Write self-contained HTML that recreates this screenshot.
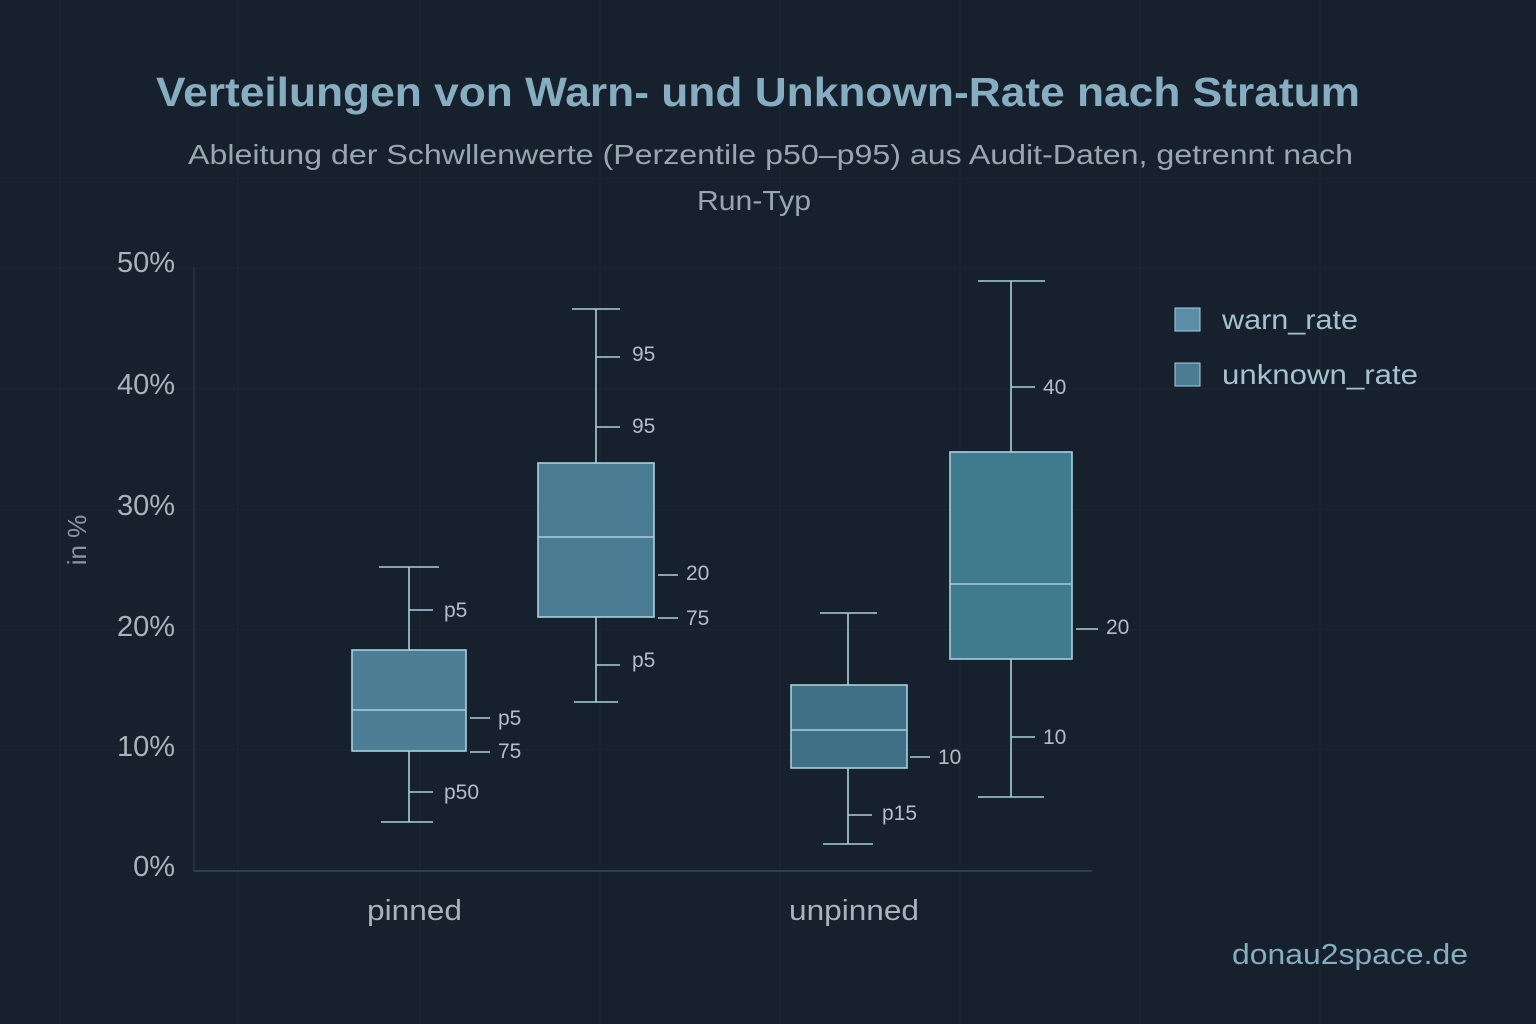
<!DOCTYPE html>
<html><head><meta charset="utf-8"><style>
html,body{margin:0;padding:0;background:#17212e;}
svg{display:block;font-family:"Liberation Sans","DejaVu Sans",sans-serif;}
</style></head><body>
<svg width="1536" height="1024" viewBox="0 0 1536 1024" xmlns="http://www.w3.org/2000/svg">
<rect width="1536" height="1024" fill="#17212e"/>
<g stroke="#1c2734" stroke-width="1">
<line x1="0" y1="178" x2="1536" y2="178"/><line x1="0" y1="268" x2="1536" y2="268"/>
<line x1="0" y1="389" x2="1536" y2="389"/><line x1="0" y1="510" x2="1536" y2="510"/>
<line x1="0" y1="630" x2="1536" y2="630"/><line x1="0" y1="750" x2="1536" y2="750"/>
<line x1="60" y1="0" x2="60" y2="1024"/><line x1="238" y1="0" x2="238" y2="1024"/>
<line x1="420" y1="0" x2="420" y2="1024"/><line x1="600" y1="0" x2="600" y2="1024"/>
<line x1="780" y1="0" x2="780" y2="1024"/><line x1="960" y1="0" x2="960" y2="1024"/>
<line x1="1140" y1="0" x2="1140" y2="1024"/><line x1="1320" y1="0" x2="1320" y2="1024"/>
</g>
<text x="156" y="106" textLength="1204" lengthAdjust="spacingAndGlyphs" font-size="41" font-weight="bold" fill="#86adc0">Verteilungen von Warn- und Unknown-Rate nach Stratum</text>
<text x="188" y="164" textLength="1165" lengthAdjust="spacingAndGlyphs" font-size="28" fill="#9aa6ae">Ableitung der Schwllenwerte (Perzentile p50–p95) aus Audit-Daten, getrennt nach</text>
<text x="697" y="210" textLength="114" lengthAdjust="spacingAndGlyphs" font-size="28" fill="#9aa6ae">Run-Typ</text>
<g font-size="29" fill="#a9b3ba" text-anchor="end">
<text x="175" y="272">50%</text><text x="175" y="394">40%</text><text x="175" y="515">30%</text>
<text x="175" y="636">20%</text><text x="175" y="756">10%</text><text x="175" y="876">0%</text>
</g>
<text transform="translate(86,540) rotate(-90)" text-anchor="middle" font-size="26" fill="#8a96a0">in %</text>
<line x1="194" y1="268" x2="194" y2="871" stroke="#24303e" stroke-width="2"/>
<line x1="194" y1="871" x2="1092" y2="871" stroke="#2f3d4c" stroke-width="2"/>
<text x="367" y="920" textLength="95" lengthAdjust="spacingAndGlyphs" font-size="29" fill="#a9b3ba">pinned</text>
<text x="789" y="920" textLength="130" lengthAdjust="spacingAndGlyphs" font-size="29" fill="#a9b3ba">unpinned</text>
<g stroke="#a8d0dc" stroke-width="1.6" fill="none">
<line x1="409" y1="567" x2="409" y2="822"/><line x1="379" y1="567" x2="439" y2="567"/><line x1="381" y1="822" x2="433" y2="822"/>
<rect x="352" y="650" width="114" height="101" fill="#4c7f96"/><line x1="352" y1="710" x2="466" y2="710"/>
<line x1="409" y1="610" x2="433" y2="610"/><line x1="470" y1="718" x2="490" y2="718"/><line x1="470" y1="752" x2="490" y2="752"/><line x1="409" y1="792" x2="433" y2="792"/>
<line x1="596" y1="309" x2="596" y2="702"/><line x1="572" y1="309" x2="620" y2="309"/><line x1="574" y1="702" x2="618" y2="702"/>
<rect x="538" y="463" width="116" height="154" fill="#4a7d94"/><line x1="538" y1="537" x2="654" y2="537"/>
<line x1="596" y1="357" x2="620" y2="357"/><line x1="596" y1="427" x2="620" y2="427"/><line x1="658" y1="575" x2="678" y2="575"/><line x1="658" y1="618" x2="678" y2="618"/><line x1="596" y1="665" x2="620" y2="665"/>
<line x1="848" y1="613" x2="848" y2="844"/><line x1="820" y1="613" x2="877" y2="613"/><line x1="823" y1="844" x2="873" y2="844"/>
<rect x="791" y="685" width="116" height="83" fill="#3f7087"/><line x1="791" y1="730" x2="907" y2="730"/>
<line x1="910" y1="757" x2="930" y2="757"/><line x1="848" y1="815" x2="872" y2="815"/>
<line x1="1011" y1="281" x2="1011" y2="797"/><line x1="978" y1="281" x2="1045" y2="281"/><line x1="978" y1="797" x2="1044" y2="797"/>
<rect x="950" y="452" width="122" height="207" fill="#3f7a8e"/><line x1="950" y1="584" x2="1072" y2="584"/>
<line x1="1011" y1="387" x2="1035" y2="387"/><line x1="1076" y1="629" x2="1098" y2="629"/><line x1="1011" y1="737" x2="1035" y2="737"/>
</g>
<g font-size="21" fill="#b3bec6">
<text x="444" y="617">p5</text><text x="498" y="725">p5</text><text x="498" y="758">75</text><text x="444" y="799">p50</text>
<text x="632" y="361">95</text><text x="632" y="433">95</text><text x="686" y="580">20</text><text x="686" y="625">75</text><text x="632" y="667">p5</text>
<text x="938" y="764">10</text><text x="882" y="820">p15</text>
<text x="1043" y="394">40</text><text x="1106" y="634">20</text><text x="1043" y="744">10</text>
</g>
<rect x="1175" y="308" width="25" height="23" fill="#5a8ea6" stroke="#a8d0dc" stroke-width="1"/>
<rect x="1175" y="363" width="25" height="23" fill="#4a7d94" stroke="#a8d0dc" stroke-width="1"/>
<text x="1222" y="329" textLength="136" lengthAdjust="spacingAndGlyphs" font-size="28" fill="#a4c2d0">warn_rate</text>
<text x="1222" y="384" textLength="196" lengthAdjust="spacingAndGlyphs" font-size="28" fill="#a4c2d0">unknown_rate</text>
<text x="1232" y="964" textLength="236" lengthAdjust="spacingAndGlyphs" font-size="29" fill="#86adc0">donau2space.de</text>
</svg>
</body></html>
